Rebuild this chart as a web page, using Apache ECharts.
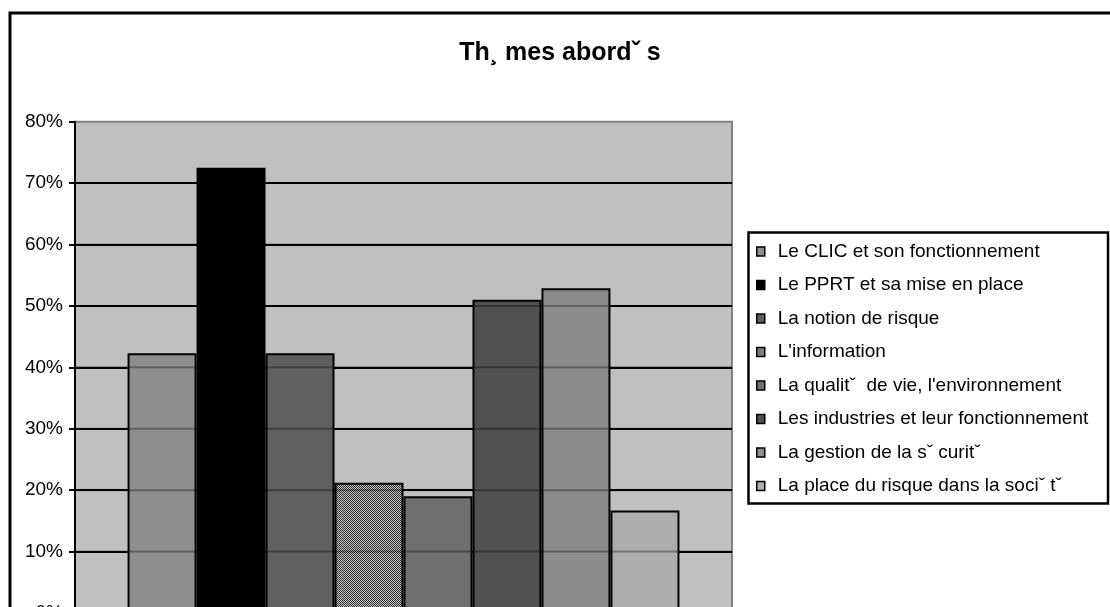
<!DOCTYPE html>
<html>
<head>
<meta charset="utf-8">
<script src="https://cdn.jsdelivr.net/npm/echarts@6/dist/echarts.min.js"></script>
<style>
html,body{margin:0;padding:0;background:#fff;overflow:hidden;}
#c{width:1110px;height:650px;}
</style>
</head>
<body>
<div id="c"></div>
<script>
// ---- data ----
var titleText = 'Th\u00B8 mes abord\u02C7 s';
var categories = [''];
var seriesNames = [
  'Le CLIC et son fonctionnement',
  'Le PPRT et sa mise en place',
  'La notion de risque',
  "L'information",
  "La qualit\u02C7  de vie, l'environnement",
  'Les industries et leur fonctionnement',
  'La gestion de la s\u02C7 curit\u02C7',
  'La place du risque dans la soci\u02C7 t\u02C7'
];
var seriesValues = [0.423, 0.725, 0.423, 0.212, 0.190, 0.510, 0.529, 0.167];
var yTicks = [0, 0.1, 0.2, 0.3, 0.4, 0.5, 0.6, 0.7, 0.8];

// ---- styles ----
function checker() {
  var cv = document.createElement('canvas');
  cv.width = 2; cv.height = 2;
  var ctx = cv.getContext('2d');
  ctx.fillStyle = '#d0d0d0'; ctx.fillRect(0, 0, 2, 2);
  ctx.fillStyle = '#262626'; ctx.fillRect(0, 0, 1, 1); ctx.fillRect(1, 1, 1, 1);
  return cv;
}
var colors = ['#8e8e8e', '#000000', '#606060', {image: checker(), repeat: 'repeat'},
              '#707070', '#505050', '#8c8c8c', '#aeaeae'];
var FONT = "'Liberation Sans', Arial, sans-serif";

var chart = echarts.init(document.getElementById('c'), null, {renderer: 'canvas'});
var yMin = yTicks[0], yMax = yTicks[yTicks.length - 1], yStep = yTicks[1] - yTicks[0];

var series = seriesNames.map(function (n, i) {
  return {
    name: n,
    type: 'bar',
    data: [seriesValues[i]],
    barGap: '0%',
    barCategoryGap: '16%',
    itemStyle: {color: colors[i], borderColor: '#000', borderWidth: 2},
    emphasis: {disabled: true}
  };
});

// gridlines seen through the bars: translucent lines drawn over them
series.push({
  name: '__innerGrid',
  type: 'custom',
  z: 10,
  silent: true,
  data: yTicks.slice(1, -1).map(function (t) { return [0, t]; }),
  encode: {x: 0, y: 1},
  renderItem: function (params, api) {
    var p = api.coord([0, api.value(1)]);
    var cs = params.coordSys;
    return {
      type: 'line',
      shape: {x1: cs.x, y1: p[1], x2: cs.x + cs.width, y2: p[1]},
      style: {stroke: 'rgba(0,0,0,0.33)', lineWidth: 2}
    };
  }
});

chart.setOption({
  animation: false,
  backgroundColor: '#fff',
  title: {
    text: titleText,
    left: 555, top: 36, textAlign: 'center',
    textStyle: {fontFamily: FONT, fontSize: 25, fontWeight: 'bold', color: '#000'}
  },
  legend: {
    orient: 'vertical',
    left: 756, top: 242,
    padding: 0,
    itemGap: 14.5,
    itemWidth: 8, itemHeight: 9,
    icon: 'rect',
    itemStyle: {borderColor: '#000', borderWidth: 1.5},
    textStyle: {fontFamily: FONT, fontSize: 19, color: '#000', lineHeight: 19, padding: [0, 0, 0, 8]},
    data: seriesNames
  },
  grid: {
    left: 75, right: 1110 - 732, top: 121.7, bottom: 650 - 613,
    show: true, backgroundColor: '#c0c0c0', borderColor: '#808080', borderWidth: 2
  },
  xAxis: {
    type: 'category', data: categories,
    axisLine: {show: true, lineStyle: {color: '#000', width: 2}},
    axisTick: {show: false}, axisLabel: {show: false}
  },
  yAxis: {
    type: 'value', min: yMin, max: yMax, interval: yStep,
    axisLine: {show: true, lineStyle: {color: '#000', width: 2}},
    axisTick: {show: true, length: 6, lineStyle: {color: '#000', width: 2}},
    axisLabel: {
      margin: 12, color: '#000', fontFamily: FONT, fontSize: 19,
      formatter: function (v) { return Math.round(v * 100) + '%'; }
    },
    splitLine: {show: true, showMaxLine: false, lineStyle: {color: '#000', width: 2}}
  },
  series: series,
  graphic: [
    {type: 'rect', shape: {x: 10, y: 13, width: 1200, height: 700},
     style: {fill: null, stroke: '#000', lineWidth: 3}, silent: true, z: 100},
    {type: 'rect', shape: {x: 748.5, y: 232.5, width: 359.5, height: 271},
     style: {fill: null, stroke: '#000', lineWidth: 2.5}, silent: true, z: 100}
  ]
});
</script>
</body>
</html>
